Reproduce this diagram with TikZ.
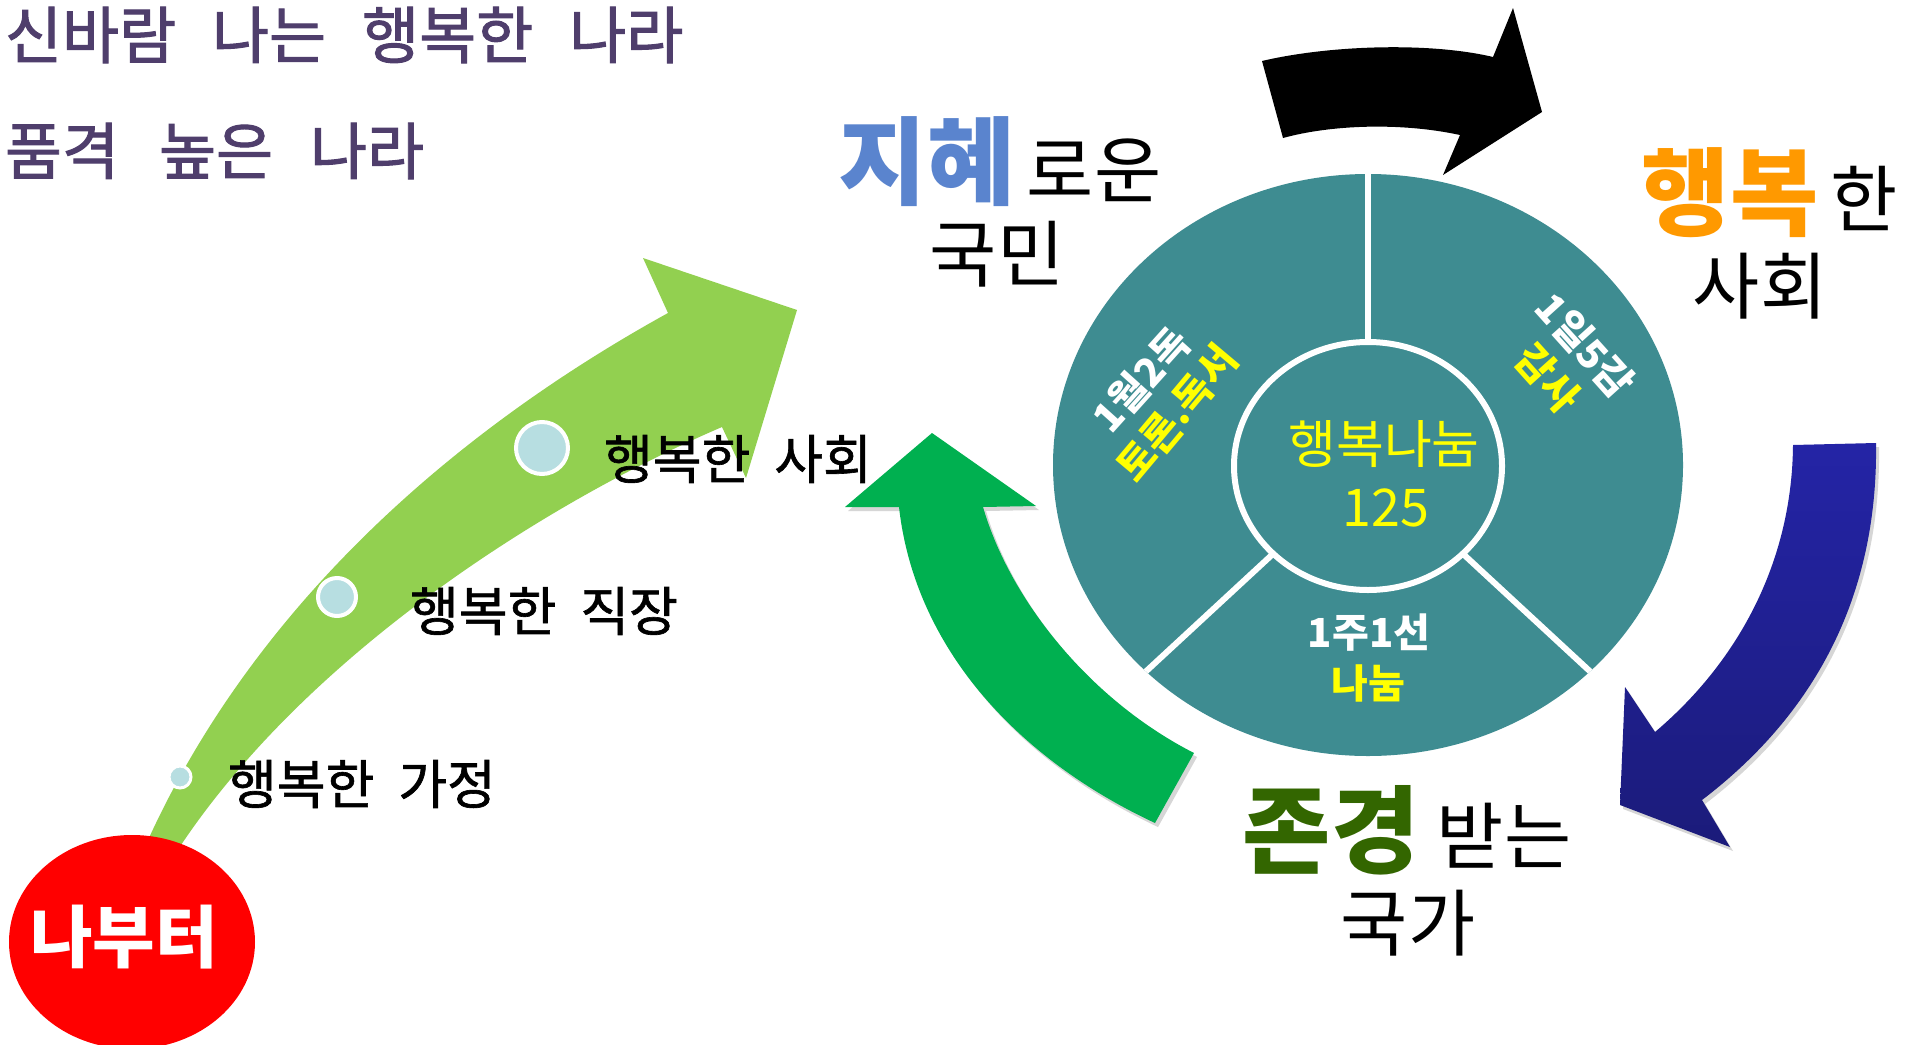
\documentclass[tikz,border=0pt]{standalone}
\usepackage{fontspec}
\setmainfont{Noto Sans CJK KR}
\newfontfamily\titlefont[FakeBold=1.6]{Noto Sans CJK KR}
\newfontfamily\labelfont[FakeBold=1.2]{Noto Sans CJK KR}
\definecolor{titlec}{RGB}{79,62,108}
\definecolor{tealc}{RGB}{62,140,145}
\definecolor{lgreen}{RGB}{146,208,80}
\definecolor{dgreen}{RGB}{0,176,80}
\definecolor{navyA}{RGB}{36,36,166}
\definecolor{navyB}{RGB}{27,27,122}
\definecolor{dotblue}{RGB}{183,222,225}
\definecolor{orangec}{RGB}{255,153,0}
\definecolor{greenword}{RGB}{51,102,0}
\definecolor{bluec}{RGB}{90,132,206}
\definecolor{yel}{RGB}{255,255,0}
\definecolor{redc}{RGB}{255,0,0}
\newcommand\fs[1]{\fontsize{#1}{#1}\selectfont}
\begin{document}
\begin{tikzpicture}[x=1pt,y=-1pt,
  every node/.style={inner sep=0pt,outer sep=0pt},
  titletext/.style={anchor=west,text=titlec,font=\titlefont\fs{62}},
  steplabel/.style={text=black,font=\labelfont\fs{53}},
  dotc/.style={fill=dotblue,draw=white},
  bigword/.style={font=\fs{96}\bfseries},
  plainword/.style={text=black,font=\fs{73}},
  ringtext/.style={font=\fs{40}\bfseries},
  centertext/.style={text=yel,font=\fs{52}},
  shadowfill/.style={fill=black!16}]
\useasboundingbox (0,0) rectangle (1908,1044);
\fill[white] (0,0) rectangle (1908,1044);

% title
\node[titletext] (title1) at (5,35) {신바람\hspace{36pt}나는\hspace{36pt}행복한\hspace{36pt}나라};
\node[titletext] (title2) at (5,151) {품격\hspace{40pt}높은\hspace{37pt}나라};

% light green rising arrow
\fill[lgreen] (135,870) .. controls (230,640) and (420,450) .. (668,313)
  -- (643,258) -- (797,310) -- (746,478) -- (722,427)
  .. controls (540,505) and (290,665) .. (165,870) -- cycle;

% dots and labels
\draw[dotc,line width=4pt] (542,448) circle [radius=26];
\draw[dotc,line width=4pt] (337,597) circle [radius=19];
\draw[dotc,line width=3pt] (180,777) circle [radius=11];
\node[steplabel] (s3) at (738,459) {행복한\hspace{24pt}사회};
\node[steplabel] (s2) at (544,611) {행복한\hspace{24pt}직장};
\node[steplabel] (s1) at (362,784) {행복한\hspace{24pt}가정};

% red start
\fill[redc] (132,942) ellipse [x radius=123, y radius=107];
\node[text=white,font=\fs{68}\bfseries] (me) at (124,937) {나부터};

% ring
\fill[tealc] (1368,465) ellipse [x radius=315, y radius=291];
\begin{scope}
  \clip (1368,465) ellipse [x radius=315, y radius=291];
  \draw[white,line width=6pt] (1368,466) -- (1368,150);
  \draw[white,line width=6pt] (1368,466) -- (1128,688);
  \draw[white,line width=6pt] (1368,466) -- (1608,688);
\end{scope}
\draw[white,line width=6pt,fill=tealc] (1368,466) ellipse [x radius=134, y radius=124];

\node[ringtext,text=white,rotate=48] (r1) at (1141,380) {1월2독};
\node[ringtext,text=yel,rotate=50] (r2) at (1177,413) {토론.독서};
\node[ringtext,text=white,rotate=-48] (r3) at (1585,345) {1일5감};
\node[ringtext,text=yel,rotate=-48] (r4) at (1548,378) {감사};
\node[ringtext,text=white] (r5) at (1369,633) {1주1선};
\node[ringtext,text=yel] (r6) at (1368,683) {나눔};
\node[centertext] (c1) at (1384,444) {행복나눔};
\node[centertext] (c2) at (1386,508) {125};

% black arrow
\fill[black] (1262,61) .. controls (1330,45) and (1430,42) .. (1493,57)
  -- (1513,8) -- (1542,112) -- (1443,175) -- (1460,135)
  .. controls (1400,122) and (1330,125) .. (1283,138) -- cycle;

% blue arrow
\begin{scope}[shift={(3,4)}]
\fill[shadowfill] (1876,443) -- (1793,445)
  .. controls (1792,560) and (1740,660) .. (1655,732)
  -- (1625,687) -- (1620,805) -- (1730,847) -- (1702,800)
  .. controls (1820,710) and (1878,590) .. (1876,443) -- cycle;
\end{scope}
\shade[top color=navyA,bottom color=navyB] (1876,443) -- (1793,445)
  .. controls (1792,560) and (1740,660) .. (1655,732)
  -- (1625,687) -- (1620,805) -- (1730,847) -- (1702,800)
  .. controls (1820,710) and (1878,590) .. (1876,443) -- cycle;

% dark green arrow
\begin{scope}[shift={(3,4)}]
\fill[shadowfill] (932,433) -- (1036,506) -- (983,507)
  .. controls (1010,600) and (1090,700) .. (1194,753)
  -- (1155,823)
  .. controls (1020,760) and (915,650) .. (899,507)
  -- (845,507) -- cycle;
\end{scope}
\fill[dgreen] (932,433) -- (1036,506) -- (983,507)
  .. controls (1010,600) and (1090,700) .. (1194,753)
  -- (1155,823)
  .. controls (1020,760) and (915,650) .. (899,507)
  -- (845,507) -- cycle;

% big words
\node[bigword,text=bluec] (w1) at (927,162) {지혜};
\node[plainword] (w2) at (1094,170) {로운};
\node[plainword] (w3) at (997,254) {국민};

\node[bigword,text=orangec] (w4) at (1730,193) {행복};
\node[plainword] (w5) at (1864,198) {한};
\node[plainword] (w6) at (1760,286) {사회};

\node[bigword,text=greenword] (w7) at (1331,830) {존경};
\node[plainword] (w8) at (1504,836) {받는};
\node[plainword] (w9) at (1408,923) {국가};
\end{tikzpicture}
\end{document}
